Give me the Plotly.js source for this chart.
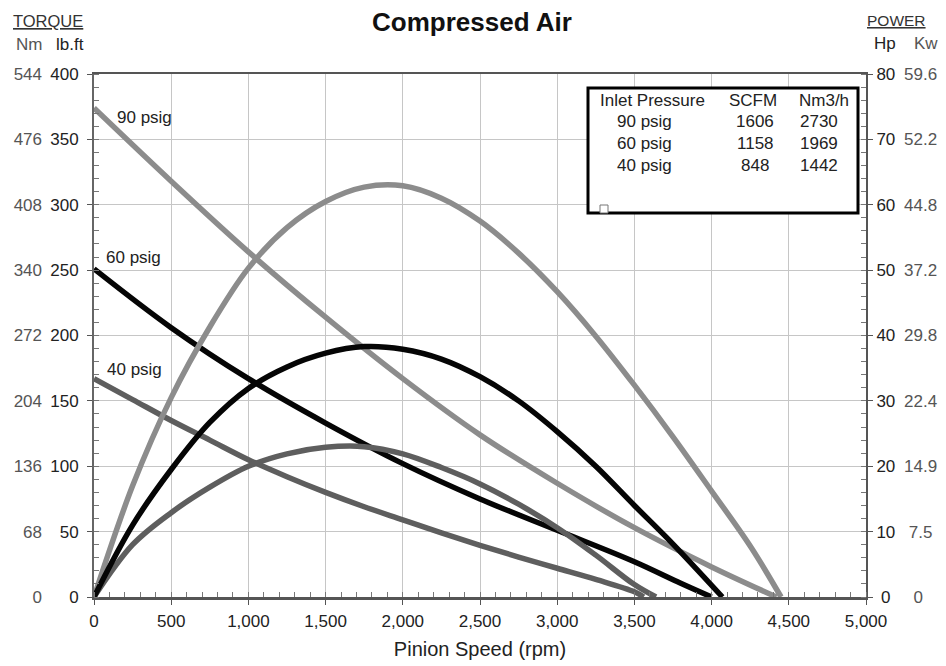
<!DOCTYPE html>
<html><head><meta charset="utf-8">
<script src="https://cdn.plot.ly/plotly-3.0.1.min.js"></script>
<style>html,body{margin:0;padding:0;background:#fff}#chart{width:946px;height:666px}</style>
</head><body><div id="chart"></div>
<script>
// ---- data ----
const torque90Rpm = [0, 500, 1000, 1500, 2000, 2500, 3000, 3500, 4000, 4420];
const torque90 = [374, 318, 264, 214, 167, 124, 87, 53, 23, 0];           // lb.ft
const power90Rpm = [0, 250, 500, 750, 1000, 1250, 1500, 1750, 2000, 2250, 2500, 2750, 3000, 3250, 3500, 3750, 4000, 4250, 4450];
const power90 = [0, 17, 30.5, 41.3, 50.3, 56.5, 60.5, 62.7, 62.9, 61, 57.5, 52.6, 46.7, 39.9, 32.4, 24.5, 16.2, 7.8, 0]; // hp

const torque60Rpm = [0, 500, 1000, 1500, 2000, 2500, 3000, 3500, 3800, 4000];
const torque60 = [251, 206, 167, 133, 102, 75, 51, 27, 10.5, 0];
const power60Rpm = [0, 250, 500, 750, 1000, 1250, 1500, 1750, 2000, 2250, 2500, 2750, 3000, 3250, 3500, 3750, 4070];
const power60 = [0, 11, 19.5, 26.7, 31.9, 35.2, 37.3, 38.3, 37.9, 36.4, 33.7, 30, 25.3, 20, 14, 8.1, 0];

const torque40Rpm = [0, 250, 500, 750, 1000, 1250, 1500, 1750, 2000, 2250, 2500, 2750, 3000, 3250, 3500, 3560];
const torque40 = [167, 151, 135, 120, 105, 92, 80, 69, 59, 49, 39.5, 30.5, 22, 13.5, 4, 0];
const power40Rpm = [0, 250, 500, 750, 1000, 1250, 1500, 1750, 2000, 2250, 2500, 2750, 3000, 3250, 3500, 3640];
const power40 = [0, 8, 12.9, 16.8, 20, 21.9, 22.9, 23, 21.9, 19.8, 17.3, 14.2, 10.6, 6.4, 1.9, 0];

const curveLabels = ['90 psig', '60 psig', '40 psig'];

// axis tick labels
const xTicks = [0, 500, 1000, 1500, 2000, 2500, 3000, 3500, 4000, 4500, 5000];
const lbftTicks = [0, 50, 100, 150, 200, 250, 300, 350, 400];
const nmLabels = ['0', '68', '136', '204', '272', '340', '408', '476', '544'];
const hpTicks = [0, 10, 20, 30, 40, 50, 60, 70, 80];
const kwLabels = ['0', '7.5', '14.9', '22.4', '29.8', '37.2', '44.8', '52.2', '59.6'];

// table
const tableHeader = ['Inlet Pressure', 'SCFM', 'Nm3/h'];
const tablePressure = ['90 psig', '60 psig', '40 psig'];
const tableScfm = ['1606', '1158', '848'];
const tableNm3h = ['2730', '1969', '1442'];

// ---- styling ----
const FONT = 'Liberation Sans, Arial, Helvetica, sans-serif';
const C90 = '#8c8c8c', C60 = '#050505', C40 = '#5e5e5e';
const LW = 5.5;
const L = 94, R = 866, T = 74, B = 597;
const PX = p => (p - L) / (R - L);
const PY = p => (B - p) / (B - T);

// centre short right-side labels (tick labels are left-aligned there) with figure/punctuation spaces
const FIG = '\u2007', PUN = '\u2008';
function padKw(s) { return s.length === 1 ? FIG + s : (s.length === 3 ? PUN + s : s); }
function padHp(v) { const s = String(v); return s.length === 1 ? PUN + s : s; }

function line(x, y, color, yaxis) {
  return {x: x, y: y, type: 'scatter', mode: 'lines', yaxis: yaxis,
    line: {color: color, width: LW, shape: 'spline', smoothing: 1},
    hoverinfo: 'skip', showlegend: false};
}

const traces = [
  line(power40Rpm, power40, C40, 'y2'),
  line(torque40Rpm, torque40, C40, 'y'),
  line(power90Rpm, power90, C90, 'y2'),
  line(torque90Rpm, torque90, C90, 'y'),
  line(power60Rpm, power60, C60, 'y2'),
  line(torque60Rpm, torque60, C60, 'y'),
  // empty traces so the secondary label axes (Nm, Kw) are drawn
  {x: [], y: [], type: 'scatter', mode: 'lines', yaxis: 'y3', hoverinfo: 'skip', showlegend: false},
  {x: [], y: [], type: 'scatter', mode: 'lines', yaxis: 'y4', hoverinfo: 'skip', showlegend: false},
];

const tickFont = {family: FONT, size: 17, color: '#222'};
const grayFont = {family: FONT, size: 17, color: '#555'};

const annotations = [];
function ann(text, x, y, font, extra) {
  annotations.push(Object.assign({text: text, x: x, y: y, xref: 'paper', yref: 'paper',
    xanchor: 'center', yanchor: 'middle', showarrow: false, font: font}, extra || {}));
}
ann('<u>TORQUE</u>', PX(48), PY(21), {family: FONT, size: 16.5, color: '#333'});
ann('Nm', PX(29), PY(44), grayFont);
ann('lb.ft', PX(69.5), PY(44), tickFont);
ann('<u>POWER</u>', PX(896.5), PY(20), {family: FONT, size: 15.5, color: '#333'});
ann('Hp', PX(885), PY(43), tickFont);
ann('Kw', PX(926), PY(43), grayFont);

// curve labels
annotations.push({text: curveLabels[0], x: 325, y: 367, xref: 'x', yref: 'y', showarrow: false, font: tickFont});
annotations.push({text: curveLabels[1], x: 254, y: 260, xref: 'x', yref: 'y', showarrow: false, font: tickFont});
annotations.push({text: curveLabels[2], x: 263, y: 174, xref: 'x', yref: 'y', showarrow: false, font: tickFont});

// table text
const colHead = [652.5, 752.5, 824];
const colVal = [644.5, 755, 819];
const rowY = [122, 143.5, 165];
tableHeader.forEach((t, i) => ann(t, PX(colHead[i]), PY(100), tickFont));
tablePressure.forEach((t, r) => {
  ann(t, PX(colVal[0]), PY(rowY[r]), tickFont);
  ann(tableScfm[r], PX(colVal[1]), PY(rowY[r]), tickFont);
  ann(tableNm3h[r], PX(colVal[2]), PY(rowY[r]), tickFont);
});

const shapes = [
  {type: 'rect', xref: 'paper', yref: 'paper', x0: PX(588), x1: PX(858), y0: PY(213), y1: PY(88),
   line: {color: '#000', width: 3}, fillcolor: '#fff', layer: 'above'},
  {type: 'rect', xref: 'paper', yref: 'paper', x0: PX(600), x1: PX(608), y0: PY(213), y1: PY(205),
   line: {color: '#777', width: 1}, fillcolor: '#fff', layer: 'above'},
];

const layout = {
  width: 946, height: 666,
  margin: {l: L, r: 946 - R, t: T, b: 666 - B},
  paper_bgcolor: '#fff', plot_bgcolor: '#fff',
  font: {family: FONT, size: 17, color: '#222'},
  title: {text: '<b>Compressed Air</b>', font: {family: FONT, size: 26, color: '#111'},
          x: 472 / 946, xref: 'container', xanchor: 'center', y: 1 - 22 / 666, yref: 'container', yanchor: 'middle'},
  xaxis: {range: [0, 5000], tickvals: xTicks, tickformat: ',', automargin: false,
          showgrid: true, gridcolor: '#c6c6c6', gridwidth: 1, zeroline: false,
          showline: true, linecolor: '#555', linewidth: 2.5, mirror: true,
          ticks: 'outside', ticklen: 5, tickcolor: '#555', tickwidth: 1,
          minor: {ticks: 'inside', dtick: 100, ticklen: 5, tickcolor: '#777', tickwidth: 1, showgrid: false},
          tickfont: tickFont, ticklabelstandoff: 2,
          title: {text: 'Pinion Speed (rpm)', font: {family: FONT, size: 20, color: '#222'}, standoff: 12}},
  yaxis: {range: [0, 400], tickvals: lbftTicks, automargin: false,
          showgrid: true, gridcolor: '#c6c6c6', gridwidth: 1, zeroline: false,
          showline: true, linecolor: '#666', linewidth: 2,
          ticks: 'outside', ticklen: 5, tickcolor: '#555', tickwidth: 1,
          minor: {ticks: 'inside', dtick: 10, ticklen: 5, tickcolor: '#777', tickwidth: 1, showgrid: false},
          tickfont: tickFont, ticklabelstandoff: 5},
  yaxis2: {range: [0, 80], tickvals: hpTicks, ticktext: hpTicks.map(padHp), overlaying: 'y', side: 'right', automargin: false,
          showgrid: false, zeroline: false, showline: true, linecolor: '#555', linewidth: 2,
          ticks: 'outside', ticklen: 5, tickcolor: '#555', tickwidth: 1,
          minor: {ticks: 'inside', dtick: 2, ticklen: 5, tickcolor: '#777', tickwidth: 1, showgrid: false},
          tickfont: tickFont},
  yaxis3: {range: [0, 400], tickvals: lbftTicks, ticktext: nmLabels, overlaying: 'y', side: 'left',
          anchor: 'free', position: 0, automargin: false, showgrid: false, zeroline: false, showline: false,
          ticks: '', tickfont: grayFont, ticklabelstandoff: 52},
  yaxis4: {range: [0, 80], tickvals: hpTicks, ticktext: kwLabels.map(padKw), overlaying: 'y', side: 'right',
          anchor: 'free', position: 1, automargin: false, showgrid: false, zeroline: false, showline: false,
          ticks: '', tickfont: grayFont, ticklabelstandoff: 37},
  annotations: annotations,
  shapes: shapes,
  showlegend: false,
};

Plotly.newPlot('chart', traces, layout, {staticPlot: true, displayModeBar: false});
</script></body></html>
